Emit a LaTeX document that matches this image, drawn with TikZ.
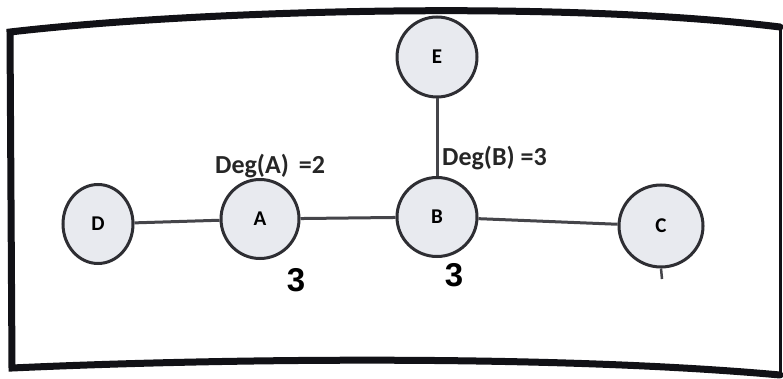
\documentclass[tikz,border=0pt]{standalone}
\usepackage{fontspec}
\setmainfont{Carlito}
\newfontfamily\digitfont{Liberation Sans}
\usetikzlibrary{shapes.geometric}
\definecolor{nodefill}{HTML}{E8EAEF}
\definecolor{nodeline}{HTML}{2E2E33}
\definecolor{edgecol}{HTML}{45454A}
\definecolor{framecol}{HTML}{111116}
\tikzset{
  vtx/.style={ellipse, draw=nodeline, fill=nodefill, line width=3pt, inner sep=0pt,
    minimum width=78pt, minimum height=79pt, font=\fontsize{21}{21}\selectfont\bfseries, text=black},
  edge/.style={draw=edgecol, line width=3pt},
  deglbl/.style={anchor=west, inner sep=0pt, text=black!85, font=\fontsize{26}{26}\selectfont\bfseries},
  numlbl/.style={inner sep=0pt, text=black, font=\digitfont\fontsize{33}{33}\selectfont\bfseries},
  frameline/.style={draw=framecol, line width=7pt, line cap=round}
}
\begin{document}
\begin{tikzpicture}[x=1pt,y=-1pt]
\useasboundingbox (0,0) rectangle (783,379);
% frame
\draw[frameline] (780,27) .. controls (560,0) and (200,10) .. (10,32) -- (12,368)
  .. controls (230,358) and (560,355) .. (780,375);
\draw[draw=framecol, line width=3pt] (780,27) -- (780,375);
% nodes
\node[vtx, minimum width=70pt] (D) at (98,224) {D};
\node[vtx] (A) at (260,219) {A};
\node[vtx, minimum width=80pt] (B) at (437,217) {B};
\node[vtx, minimum width=80pt, minimum height=80pt] (E) at (437,57) {E};
\node[vtx, minimum width=84pt, minimum height=82pt] (C) at (661,226) {C};
\coordinate (ct) at (662,279);
% edges
\draw[edge] (D) -- (A);
\draw[edge] (A) -- (B);
\draw[edge] (B) -- (C);
\draw[edge] (E) -- (B);
\draw[draw=edgecol, line width=2.5pt] (C.south) -- (ct);
% labels
\node[deglbl] (dA) at (215,166) {Deg(A)\hspace{10pt}=2};
\node[deglbl] (dB) at (442,158) {Deg(B) =3};
\node[numlbl] (nA) at (296,280) {3};
\node[numlbl] (nB) at (454,275) {3};
\end{tikzpicture}
\end{document}
